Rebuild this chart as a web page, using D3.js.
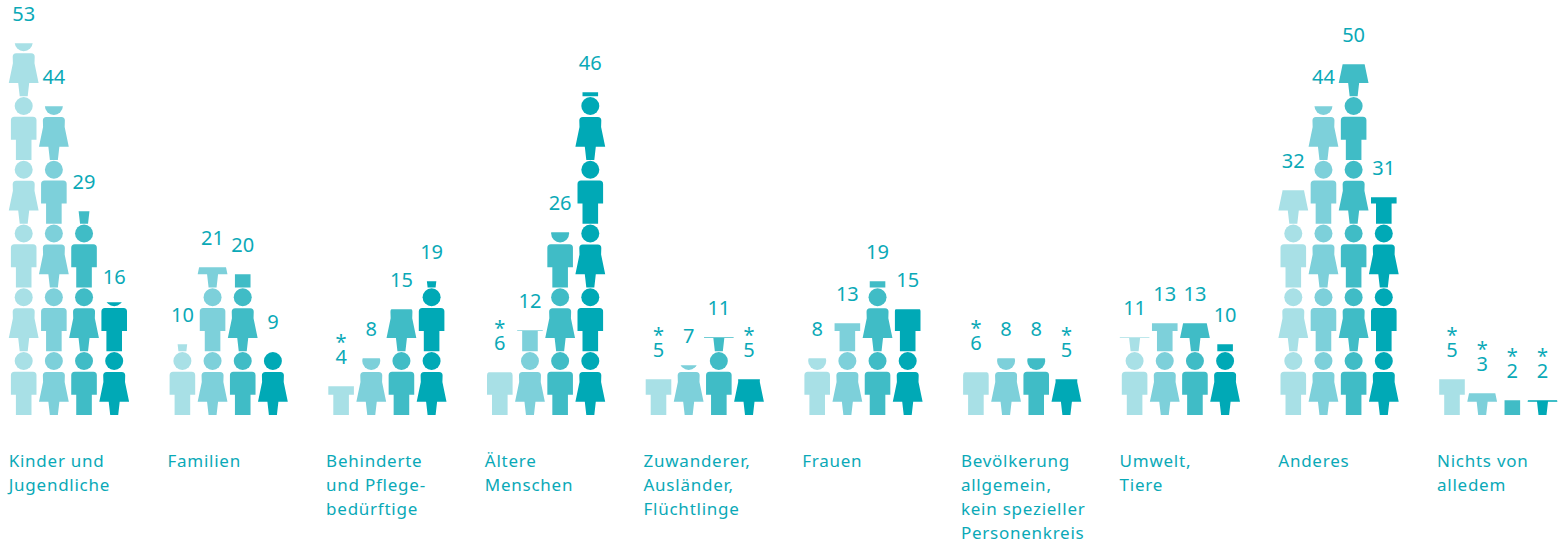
<!DOCTYPE html>
<html lang="de"><head><meta charset="utf-8">
<script src="https://cdn.jsdelivr.net/npm/d3@7/dist/d3.min.js"></script>
<style>
html,body{margin:0;padding:0;background:#fff}
svg{display:block}
text{font-family:"Noto Sans",sans-serif;fill:#0aa9b7}
</style></head><body><div id="chart"></div>
<script>
const categories = [
  ["Kinder und","Jugendliche"],
  ["Familien"],
  ["Behinderte","und Pflege-","bedürftige"],
  ["Ältere","Menschen"],
  ["Zuwanderer,","Ausländer,","Flüchtlinge"],
  ["Frauen"],
  ["Bevölkerung","allgemein,","kein spezieller","Personenkreis"],
  ["Umwelt,","Tiere"],
  ["Anderes"],
  ["Nichts von","alledem"]
];
const series1 = [53,10,4,6,5,8,6,11,32,5];
const series2 = [44,21,8,12,7,13,8,13,44,3];
const series3 = [29,20,15,26,11,19,8,13,50,2];
const series4 = [16,9,19,46,5,15,5,10,31,2];
const allSeries = [series1,series2,series3,series4];
const starred1 = [0,0,1,1,1,0,1,0,0,1];
const starred2 = [0,0,0,0,0,0,0,0,0,1];
const starred3 = [0,0,0,0,0,0,0,0,0,1];
const starred4 = [0,0,0,0,1,0,1,0,0,1];
const allStarred = [starred1,starred2,starred3,starred4];
const colours = ["#a8e0e6","#7dd0da","#40bcc6","#00a9b6"];
const unitsPerFigure = 9.107;

const W=1566,H=544;
const svg=d3.select("#chart").append("svg").attr("width",W).attr("height",H);
const defs=svg.append("defs");
const yScale=d3.scaleLinear().domain([0,53]).range([415,44]);
const gx=d3.scalePoint().domain(d3.range(categories.length)).range([23.7,23.7+9*158.7]);
const cx=d3.scalePoint().domain(d3.range(4)).range([0,90.5]);

const manPath="M-12.8,-39.8Q-12.8,-43.3 -9.3,-43.3L9.3,-43.3Q12.8,-43.3 12.8,-39.8L12.8,-20.3L7.8,-20.3L7.8,0L-7.8,0L-7.8,-20.3L-12.8,-20.3Z";
const womanPath="M-11,-39.5Q-11,-43 -7.5,-43L7.5,-43Q11,-43 11,-39.5L10.8,-33L14.9,-13.3L5.5,-13.3L4,0L-4,0L-5.5,-13.3L-14.9,-13.3L-10.8,-33Z";

categories.forEach((cat,g)=>{
  const group=svg.append("g").attr("transform",`translate(${gx(g)},0)`);
  allSeries.forEach((s,c)=>{
    const v=s[g], id=`clip-${g}-${c}`, x=cx(c);
    defs.append("clipPath").attr("id",id).append("rect")
      .attr("x",x-20).attr("width",40)
      .attr("y",yScale(v)-0.7).attr("height",yScale(0)-yScale(v)+0.7);
    const col=group.append("g").attr("clip-path",`url(#${id})`);
    d3.range(Math.ceil(v/unitsPerFigure)).forEach(r=>{
      const isMan=(r+c)%2===0;
      const fig=col.append("g").attr("transform",`translate(${x},${yScale(r*unitsPerFigure)})`).attr("fill",colours[c]);
      fig.append("circle").attr("cy",-54).attr("r",9);
      fig.append("path").attr("d",isMan?manPath:womanPath);
    });
    const lbl=group.append("text").attr("text-anchor","middle").style("font-size","20px");
    // the "16" of the first group sits slightly lower in the source
    const yl=yScale(v)-23+(g===0&&c===3?4:0);
    if(allStarred[c][g]){
      lbl.append("tspan").attr("x",x).attr("y",yl-15).text("*");
      lbl.append("tspan").attr("x",x).attr("y",yl).text(v);
    } else {
      lbl.attr("x",x).attr("y",yl).text(v);
    }
  });
  const t=svg.append("text").attr("transform",`translate(${gx(g)-15},467)`)
    .style("font-size","17px").style("letter-spacing","0.75px");
  cat.forEach((line,i)=>t.append("tspan").attr("x",0).attr("dy",i?24:0).text(line));
});
</script></body></html>
